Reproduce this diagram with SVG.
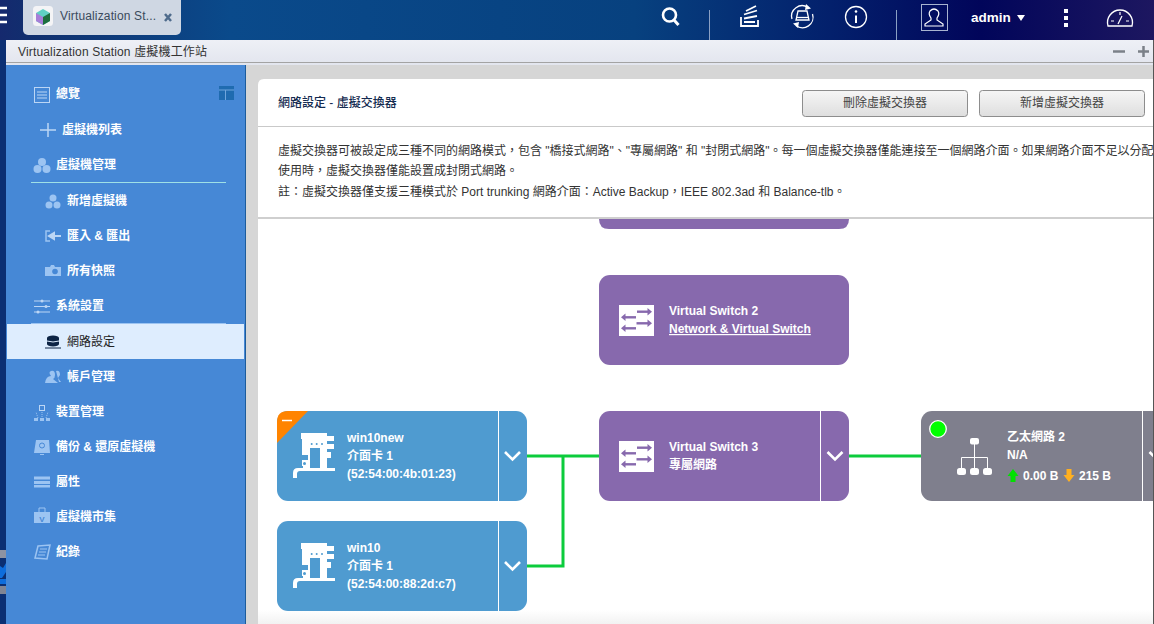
<svg xmlns="http://www.w3.org/2000/svg" xmlns:xlink="http://www.w3.org/1999/xlink" width="1154" height="624" viewBox="0 0 1154 624">
<style>
text{font-family:"Liberation Sans","Noto Sans CJK TC",sans-serif}
.nav{font-size:12px;font-weight:700;fill:#fff}
.sub{font-size:12px;font-weight:700;fill:#fff}
.nt{font-size:12px;font-weight:700;fill:#fff}
.desc{font-size:12px;fill:#333}
.btn{fill:url(#btn);stroke:#8d8d8d;stroke-width:1}
.btxt{font-size:12px;fill:#444;text-anchor:middle}
.ico{fill:#9cc4f2}
.icoS{fill:none;stroke:#9cc4f2;stroke-width:1.5}
.chev{fill:none;stroke:#fff;stroke-width:2.6}
.div{stroke:#fff;stroke-width:1}
.wire{fill:none;stroke:#0ccc3c;stroke-width:3}
.vm{fill:#4f9bd0}
.sw{fill:#8769ad}
.eth{fill:#7f7f8d}
</style>
<defs>
<linearGradient id="bar" x1="0" x2="1" y1="0" y2="0"><stop offset="0" stop-color="#15296e"/><stop offset=".03" stop-color="#10306f"/><stop offset=".2" stop-color="#0a4a8b"/><stop offset=".55" stop-color="#07417f"/><stop offset=".72" stop-color="#03206c"/><stop offset=".85" stop-color="#01055a"/><stop offset="1" stop-color="#1d1760"/></linearGradient>
<linearGradient id="title" x1="0" x2="0" y1="0" y2="1"><stop offset="0" stop-color="#eef0f6"/><stop offset="1" stop-color="#e2e5ee"/></linearGradient>
<linearGradient id="btn" x1="0" x2="0" y1="0" y2="1"><stop offset="0" stop-color="#f6f6f6"/><stop offset="1" stop-color="#dedede"/></linearGradient>
<linearGradient id="fade" x1="0" x2="0" y1="0" y2="1"><stop offset="0" stop-color="#fff"/><stop offset="1" stop-color="#f2f2f2"/></linearGradient>
<clipPath id="descClip"><rect x="258" y="127" width="895" height="90"/></clipPath>
<clipPath id="ethClip"><rect x="900" y="400" width="253" height="110"/></clipPath>
<g id="nic">
<path fill="#fff" d="M24 22H50V25H57V30H50V33H57V38H50V41H54V47H50V57H58V60H23Q20 60 20 63V67H16V62Q16 57 21 57H26V55H25V28H24Z"/>
<rect x="33" y="37" width="10" height="20" fill="#4f9bd0"/>
<rect x="25" y="44" width="6" height="5" fill="#4f9bd0"/>
<circle cx="27.500" cy="52.500" r="1.500" fill="#4f9bd0"/>
<circle cx="34.700" cy="33" r="1" fill="#4f9bd0"/><circle cx="39.700" cy="33" r="1" fill="#4f9bd0"/><circle cx="45" cy="33" r="1" fill="#4f9bd0"/>
</g>
<g id="swi">
<rect x="20" y="30" width="35" height="31" fill="#fff"/>
<g fill="none" stroke="#8769ad" stroke-width="2.400">
<path d="M38 36.700H50"/><path d="M37.500 48.300H50"/><path d="M37 42.300H25"/><path d="M37 53.300H25"/>
</g>
<g fill="#8769ad">
<path d="M48.500 33L53 36.700L48.500 40.400Z"/><path d="M48.500 44.600L53 48.300L48.500 52Z"/>
<path d="M26.500 38.600L22 42.300L26.500 46Z"/><path d="M26.500 49.600L22 53.300L26.500 57Z"/>
</g>
</g>
<path id="chevron" class="chev" d="M-7.500 -4L0 3.500L7.500 -4"/>
</defs>

<rect width="1154" height="624" fill="#d6d6d6"/>
<rect width="1154" height="40" fill="url(#bar)"/>
<rect x="0" y="40" width="6" height="584" fill="#0b2f73"/>
<rect x="0" y="550" width="6" height="8" fill="#8d93a3"/>
<path d="M0 566L3 568L6 563V572L2 578H0ZM0 579H6V584H0Z" fill="#0e6ddc"/>
<rect x="0" y="586" width="6" height="8" fill="#7f8595"/>

<g id="topbar">
<path d="M0 8H7M0 15H7M0 22H7" stroke="#fff" stroke-width="2.500" fill="none"/>
<rect x="23" y="-6" width="158" height="41" rx="5" fill="#cfd7e3"/>
<rect x="33" y="6" width="20" height="20" rx="3.500" fill="#f4f4f6"/>
<path d="M43 9L50 13V21L43 25L36 21V13Z" fill="#5fd0c4"/>
<path d="M43 17L50 13V21L43 25Z" fill="#1d6d3d"/>
<path d="M43 17V25L36 21V13Z" fill="#a67ed8"/>
<text x="60" y="20" font-size="12" fill="#3a4a5c" letter-spacing=".15">Virtualization St...</text>
<path d="M165 14L171 21M171 14L165 21" stroke="#4f6b8c" stroke-width="2.500" fill="none"/>
<circle cx="669.500" cy="15" r="6.500" fill="none" stroke="#fff" stroke-width="2.600"/>
<path d="M674 20L678.500 25" stroke="#fff" stroke-width="3"/>
<path d="M709.500 10V40M896.500 10V40" stroke="#8aa0c4" stroke-width="1"/>
<path d="M741 17V26H758V20M744 22H755M744 18.500L757 16M744 14.500L757 10.500M746 11L756 6" fill="none" stroke="#fff" stroke-width="1.800"/>
<g fill="none" stroke="#fff" stroke-width="1.300"><path d="M792 19A10.500 10.500 0 0 1 808 7.500M812.500 14A10.500 10.500 0 0 1 796 25.500"/><path d="M798 11H807L809 20H796Z"/><path d="M796 17.500H809"/></g>
<path d="M806 4L811 8.500L805 10ZM798 28L793 23.500L799 22Z" fill="#fff"/>
<circle cx="856" cy="17" r="10.500" fill="none" stroke="#fff" stroke-width="1.300"/>
<path d="M856 15.500V23" stroke="#fff" stroke-width="2"/><circle cx="856" cy="11.500" r="1.300" fill="#fff"/>
<rect x="921.500" y="4.500" width="26" height="26" fill="none" stroke="#a8b4d0" stroke-width="1"/>
<path d="M931 18Q928 14 930 11Q934 7 938 11Q940 14 937 18V20L943 24V26H925V24L931 20Z" fill="none" stroke="#fff" stroke-width="1.200"/>
<text x="971" y="22" font-size="13.500" font-weight="700" fill="#fff">admin</text>
<path d="M1017 15H1025L1021 21Z" fill="#fff"/>
<path d="M1064 9h4v4h-4zM1064 16h4v4h-4zM1064 23h4v4h-4z" fill="#fff"/>
<path d="M1108 26A12.500 12.500 0 1 1 1132 26Z" fill="none" stroke="#fff" stroke-width="1.300"/>
<path d="M1120 12V15M1111 21H1114M1126 21H1129M1118 24L1122 16" stroke="#fff" stroke-width="1.200" fill="none"/>
</g>

<g id="titlebar">
<rect x="6" y="40" width="1148" height="25" fill="url(#title)"/>
<rect x="6" y="62" width="1148" height="1" fill="#a3a3a3"/>
<text x="18" y="56" font-size="12" fill="#333" letter-spacing=".16">Virtualization Station 虛擬機工作站</text>
<path d="M1113 51.500H1125" stroke="#7b8088" stroke-width="2.500"/>
<path d="M1138 51.500H1149M1143.500 46V57" stroke="#7b8088" stroke-width="2.500"/>
</g>

<g id="sidebar">
<rect x="6" y="65" width="239" height="559" fill="#4688d6"/>
<rect x="245" y="65" width="1" height="559" fill="#1c5c9c"/>
<rect x="219" y="86" width="15" height="14" fill="#1f6bb0"/>
<path d="M219 90H234M225.500 90V100" stroke="#6fa5dc" stroke-width="1"/>
<rect x="34.500" y="87.500" width="15" height="15" fill="none" stroke="#bcd6f5" stroke-width="1"/>
<path d="M37 92H47M37 95H47M37 98H47" stroke="#bcd6f5" stroke-width="1"/>
<text class="nav" x="56" y="98">總覽</text>
<path d="M48 123V137M40 130H56" stroke="#bcd6f5" stroke-width="1.500"/>
<text class="nav" x="62" y="134">虛擬機列表</text>
<g class="ico"><circle cx="42" cy="162" r="4"/><circle cx="37.500" cy="169" r="4"/><circle cx="46.500" cy="169" r="4"/></g>
<text class="nav" x="56" y="169">虛擬機管理</text>
<path d="M31 182.500H226" stroke="#9fe0e6" stroke-width="1"/>
<g class="ico"><circle cx="53" cy="198" r="3.500"/><circle cx="49" cy="205" r="3.500"/><circle cx="57" cy="205" r="3.500"/></g>
<text class="sub" x="67" y="205">新增虛擬機</text>
<path d="M50 231H46V241H50" class="icoS"/><path d="M61 236H54V233L49 236L54 239V236" fill="#bcd6f5" stroke="#bcd6f5" stroke-width="2"/>
<text class="sub" x="67" y="240">匯入 &amp; 匯出</text>
<path d="M45 267H50L51 265H54L55 267H61V276H45Z" class="ico"/><circle cx="55" cy="271.500" r="2.800" fill="#4688d6"/>
<text class="sub" x="67" y="275">所有快照</text>
<path d="M34 301H50M34 306.500H50M34 312H50" stroke="#bcd6f5" stroke-width="1"/><circle cx="42" cy="301" r="1.500" fill="#bcd6f5"/><circle cx="46" cy="306.500" r="1.500" fill="#bcd6f5"/><circle cx="38" cy="312" r="1.500" fill="#bcd6f5"/>
<text class="nav" x="56" y="310">系統設置</text>
<path d="M31 323.500H226" stroke="#9cc4f2" stroke-width="1"/>
<rect x="7" y="324" width="237" height="35" fill="#deedfe"/>
<g fill="#0d2445"><ellipse cx="53" cy="338" rx="6" ry="2.500"/><rect x="47" y="338" width="12" height="6"/><ellipse cx="53" cy="344" rx="6" ry="2.500"/><rect x="45" y="347.500" width="16" height="1"/></g>
<path d="M47 341Q53 343 59 341" stroke="#deedfe" fill="none" stroke-width="1"/>
<text x="67" y="346" font-size="12" fill="#222">網路設定</text>
<path d="M45 383Q46 376 51 376Q48 372 51 371Q55 370 55 375Q55 378 53 379L58 383ZM56 371Q60 370 60 375L58 378L61 382H59Z" class="ico"/>
<text class="sub" x="67" y="381">帳戶管理</text>
<rect x="39.500" y="405.500" width="5" height="5" fill="none" stroke="#bcd6f5"/>
<path d="M42 411V417M38 417L36 411M46 417L48 411" stroke="#9cc4f2" stroke-width="1" stroke-dasharray="1 1" fill="none" transform="translate(0 1)"/>
<g class="ico"><rect x="34" y="418" width="4" height="3"/><rect x="40" y="418" width="4" height="3"/><rect x="46" y="418" width="4" height="3"/></g>
<text class="nav" x="56" y="416">裝置管理</text>
<path d="M36 440H49L50 453H34Z" class="ico"/><circle cx="42" cy="445.500" r="2.500" fill="none" stroke="#4688d6"/><rect x="40" y="454" width="4" height="1" class="ico"/>
<text class="nav" x="56" y="451">備份 &amp; 還原虛擬機</text>
<rect x="34" y="476.500" width="16" height="3" class="ico"/><rect x="34" y="481" width="16" height="3" class="ico"/><rect x="34" y="485" width="16" height="2.500" class="ico"/>
<text class="nav" x="56" y="486">屬性</text>
<path d="M34 512H50V523H34Z" class="ico"/><path d="M39 512V508H45V512" fill="none" stroke="#9cc4f2" stroke-width="1"/>
<text x="42" y="522" font-size="8" font-weight="700" fill="#4688d6" text-anchor="middle">V</text>
<text class="nav" x="56" y="521">虛擬機市集</text>
<path d="M38 546L50 545L47 559L35 558Z" fill="none" stroke="#9cc4f2" stroke-width="1.500"/><path d="M40 549L47 549M39 552L46 552M38 555L45 555" stroke="#9cc4f2" stroke-width="1"/>
<text class="nav" x="56" y="556">紀錄</text>
</g>

<g id="panel">
<path d="M258 624V85Q258 79 264 79H1153V624Z" fill="#fff"/>
<rect x="258" y="610" width="895" height="14" fill="url(#fade)"/>
<rect x="258" y="126" width="895" height="1" fill="#c9c9c9"/>
<rect x="1153" y="40" width="1" height="584" fill="#555"/>
<text x="278" y="107" font-size="12" font-weight="500" fill="#132a50">網路設定 - 虛擬交換器</text>
<g id="btn-delete"><rect class="btn" x="802.500" y="90.500" width="165" height="26" rx="3"/><text class="btxt" x="885" y="107">刪除虛擬交換器</text></g>
<g id="btn-add"><rect class="btn" x="979.500" y="90.500" width="165" height="26" rx="3"/><text class="btxt" x="1062" y="107">新增虛擬交換器</text></g>
<g clip-path="url(#descClip)">
<text class="desc" x="278" y="155">虛擬交換器可被設定成三種不同的網路模式&#xFF0C;包含 "橋接式網路"、"專屬網路" 和 "封閉式網路"。每一個虛擬交換器僅能連接至一個網路介面。如果網路介面不足以分配</text>
<text class="desc" x="278" y="175">使用時&#xFF0C;虛擬交換器僅能設置成封閉式網路。</text>
<text class="desc" x="278" y="196">註&#xFF1A;虛擬交換器僅支援三種模式於 Port trunking 網路介面&#xFF1A;Active Backup&#xFF0C;IEEE 802.3ad 和 Balance-tlb。</text>
</g>
</g>

<g id="connectors">
<path class="wire" d="M527 456H599"/>
<path class="wire" d="M527 566H563V456"/>
<path class="wire" d="M849 456H921"/>
</g>

<g id="switch-1"><path class="sw" d="M599 219H849Q849 229 839 229H609Q599 229 599 219Z"/></g>
<rect x="258" y="217" width="895" height="2" fill="#cfcfcf"/>

<g id="switch-2">
<rect class="sw" x="599" y="275" width="250" height="90" rx="11"/>
<use xlink:href="#swi" href="#swi" x="599" y="275"/>
<text class="nt" x="669" y="315">Virtual Switch 2</text>
<text class="nt" x="669" y="333" text-decoration="underline">Network &amp; Virtual Switch</text>
</g>

<g id="switch-3">
<rect class="sw" x="599" y="411" width="250" height="90" rx="11"/>
<use xlink:href="#swi" href="#swi" x="599" y="411"/>
<path class="div" d="M820.500 411V501"/>
<use xlink:href="#chevron" href="#chevron" x="835" y="456"/>
<text class="nt" x="669" y="451">Virtual Switch 3</text>
<text class="nt" x="669" y="469">專屬網路</text>
</g>

<g id="vm-win10new">
<rect class="vm" x="277" y="411" width="250" height="90" rx="11"/>
<path d="M308 411H288Q277 411 277 422V443Z" fill="#ff8400"/>
<path d="M282 420.500H292" stroke="#fff" stroke-width="1.500"/>
<use xlink:href="#nic" href="#nic" x="277" y="411"/>
<path class="div" d="M498.500 411V501"/>
<use xlink:href="#chevron" href="#chevron" x="512.500" y="456"/>
<text class="nt" x="347" y="442">win10new</text>
<text class="nt" x="347" y="460">介面卡 1</text>
<text class="nt" x="347" y="478">(52:54:00:4b:01:23)</text>
</g>

<g id="vm-win10">
<rect class="vm" x="277" y="521" width="250" height="90" rx="11"/>
<use xlink:href="#nic" href="#nic" x="277" y="521"/>
<path class="div" d="M498.500 521V611"/>
<use xlink:href="#chevron" href="#chevron" x="512.500" y="566"/>
<text class="nt" x="347" y="552">win10</text>
<text class="nt" x="347" y="570">介面卡 1</text>
<text class="nt" x="347" y="588">(52:54:00:88:2d:c7)</text>
</g>

<g id="ethernet-2" clip-path="url(#ethClip)">
<rect class="eth" x="921" y="411" width="250" height="90" rx="11"/>
<circle cx="938" cy="429" r="8.300" fill="#00ff00" stroke="#fff" stroke-width="1.300"/>
<g fill="#fff"><rect x="970" y="438" width="9" height="6.500" rx="2"/><rect x="957" y="468" width="9" height="7" rx="2.500"/><rect x="970" y="468" width="9" height="7" rx="2.500"/><rect x="983" y="468" width="9" height="7" rx="2.500"/></g>
<path d="M974.500 444V468M961.500 468V457.500H987.500V468" fill="none" stroke="#fff" stroke-width="1"/>
<text class="nt" x="1007" y="441">乙太網路 2</text>
<text class="nt" x="1007" y="459">N/A</text>
<path d="M1013 469L1018.500 476H1015.500V482H1010.500V476H1007.500Z" fill="#00e000"/>
<text class="nt" x="1023" y="480">0.00 B</text>
<path d="M1069 482L1063.500 475H1066.500V469H1071.500V475H1074.500Z" fill="#ffb020"/>
<text class="nt" x="1079" y="480">215 B</text>
<path class="div" d="M1142.500 411V501"/>
<use xlink:href="#chevron" href="#chevron" x="1157" y="456"/>
</g>
</svg>
